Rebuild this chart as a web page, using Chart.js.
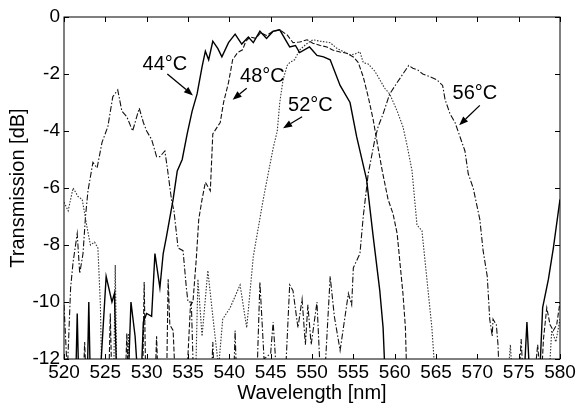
<!DOCTYPE html>
<html>
<head>
<meta charset="utf-8">
<script src="https://cdn.jsdelivr.net/npm/chart.js@4.4.1/dist/chart.umd.min.js"></script>
<style>
html, body { margin: 0; padding: 0; background: #fff; }
#wrap { width: 579px; height: 408px; }
</style>
</head>
<body>
<div id="wrap"><canvas id="chart" width="579" height="408"></canvas></div>
<script>
// Axis ticks
const xTicks = [520, 525, 530, 535, 540, 545, 550, 555, 560, 565, 570, 575, 580];
const yTicks = [-12, -10, -8, -6, -4, -2, 0];

// 44°C (solid)
const wl44 = [520, 521.4, 521.6, 521.8, 522.8, 523.0, 523.2, 524.4, 525.1, 525.8, 526.1, 526.4, 527.8, 528.1, 528.6, 529.0,
  529.4, 529.6, 530.0, 530.6, 531.0, 531.6, 532.0, 532.4, 533.2, 533.7, 534.3, 534.9, 535.5, 536.1, 536.7, 537.1,
  537.5, 538.0, 538.6, 539.1, 539.9, 540.7, 541.5, 542.3, 542.9, 543.7, 544.5, 545.3, 546.1, 546.8, 547.3, 548.0,
  548.5, 549.7, 550.6, 551.4, 552.2, 553.4, 554.6, 555.4, 556.6, 557.4, 558.2, 558.6, 558.9,
  575.6, 576.0, 576.4, 577.6, 577.9, 578.6, 579.2, 580];
const t44 = [-13, -13, -10.4, -13, -13, -10.0, -13, -12.5, -9.1, -10.0, -9.7, -13, -12.5, -10.0, -11.2, -13,
  -12.2, -10.7, -10.4, -10.5, -8.3, -9.5, -8.3, -7.7, -6.4, -5.4, -5.0, -4.1, -3.3, -2.7, -1.75, -1.2,
  -1.5, -0.85, -1.1, -1.4, -0.9, -0.6, -0.95, -0.7, -0.9, -0.5, -0.75, -0.5, -0.45, -0.8, -1.05, -1.0,
  -1.25, -1.05, -1.35, -1.4, -1.5, -2.4, -3.0, -4.2, -5.7, -7.7, -9.6, -10.9, -13,
  -13, -10.7, -13, -12.2, -10.2, -9.2, -8.1, -6.4];

// 48°C (dashed)
const wl48 = [520, 522.3, 522.5, 522.7, 525.4, 525.6, 525.8, 527.4, 527.6, 527.8, 529.5, 529.7, 529.9, 531.0, 531.2, 531.4,
  532.4, 532.6, 532.8, 533.2, 533.5, 534.8, 535.3, 535.6, 536.0, 536.3, 536.7, 537.1, 537.7, 538.0, 538.9, 539.3,
  539.9, 540.4, 541.0, 541.6, 542.0, 542.5, 543.2, 543.8, 544.5, 545.3, 546.1, 547.0, 547.7, 548.5, 549.4, 550.1,
  551.0, 551.8, 552.5, 553.4, 554.2, 555.0, 555.6, 556.2, 556.8, 557.4, 558.0, 558.5, 559.2, 559.8, 560.3, 560.6,
  561.0, 561.3, 561.5, 576.8, 577.3, 577.7, 578.0, 578.4, 578.8, 579.2, 579.6, 580];
const t48 = [-13, -13, -11.4, -13, -13, -10.4, -13, -13, -11.1, -13, -13, -9.3, -13, -13, -11.2, -13,
  -13, -9.2, -10.8, -11.0, -13, -13, -10.1, -10.0, -8.5, -7.1, -6.4, -5.8, -6.1, -4.1, -3.7, -3.0,
  -2.3, -1.5, -1.25, -1.15, -0.85, -0.7, -0.75, -0.55, -0.65, -0.5, -0.45, -0.63, -0.9, -0.88, -0.8, -0.92,
  -1.0, -1.05, -1.16, -1.23, -1.27, -1.4, -1.6, -2.1, -2.8, -3.6, -4.6, -5.4, -6.4, -6.9, -7.6, -8.5,
  -9.7, -10.9, -13, -13, -11.5, -13, -11.3, -10.2, -10.8, -11.0, -10.8, -10.0];

// 52°C (dotted)
const wl52 = [520.0, 520.5, 521.1, 521.7, 522.2, 522.8, 523.2, 523.7, 524.1, 524.4, 524.6, 526.0, 526.2, 526.4, 527.6, 527.8,
  528.0, 535.9, 536.2, 536.7, 537.4, 538.0, 538.7, 539.2, 540.1, 541.3, 542.1, 542.9, 543.5, 544.1, 544.7, 545.3,
  545.8, 546.1, 546.5, 547.0, 547.3, 547.9, 548.5, 549.3, 550.1, 551.0, 552.2, 553.0, 553.7, 554.6, 555.2, 555.8,
  556.2, 556.8, 557.6, 558.2, 558.8, 559.4, 560.3, 561.0, 561.5, 562.1, 562.7, 563.3, 563.9, 564.5, 565.0,
  573.6, 574.0, 574.3, 578.6, 579.0, 579.5, 580];
const t52 = [-6.5, -6.8, -6.0, -6.3, -6.4, -7.4, -8.0, -7.9, -8.1, -10.1, -13, -13, -8.7, -13, -13, -11.1,
  -13, -13, -9.2, -11.2, -8.9, -10.5, -12.3, -10.6, -10.2, -9.4, -10.9, -8.4, -7.4, -6.4, -5.5, -4.6,
  -4.0, -3.0, -2.2, -1.7, -1.6, -1.5, -1.16, -0.95, -0.8, -0.85, -0.9, -1.1, -1.2, -1.33, -1.3, -1.22,
  -1.6, -1.65, -1.9, -2.2, -2.5, -2.7, -3.3, -3.85, -4.5, -5.4, -7.3, -7.5, -9.2, -10.9, -13,
  -13, -11.5, -13, -13, -11.0, -11.4, -10.6];

// 56°C (dash-dot)
const wl56 = [520.0, 520.4, 520.8, 521.1, 521.6, 521.9, 522.3, 522.6, 522.9, 523.5, 524.0, 524.6, 525.3, 525.9, 526.5, 527.0,
  527.6, 528.3, 529.1, 529.6, 530.0, 530.6, 531.2, 531.6, 532.2, 532.5, 533.0, 533.3, 533.8, 534.4, 534.8, 535.0,
  535.4, 535.7, 537.8, 538.0, 538.2, 540.5, 540.7, 540.9, 543.3, 543.7, 544.2, 545.0, 545.3, 545.7, 546.8, 547.3,
  547.7, 548.3, 548.8, 549.2, 549.5, 549.9, 550.6, 551.0, 551.6, 552.2, 552.7, 553.4, 554.0, 554.4, 554.8, 555.0,
  555.8, 556.2, 556.6, 556.8, 557.6, 558.0, 558.6, 559.4, 560.3, 561.0, 561.7, 562.2, 562.8, 563.4, 564.3, 565.1,
  565.8, 566.1, 566.7, 567.3, 567.9, 568.5, 568.9, 569.5, 570.3, 570.7, 571.2, 571.5, 571.8, 571.9, 572.3, 572.5,
  572.7, 575.0, 575.3, 575.6, 580];
const t56 = [-10.1, -12.5, -9.5, -8.6, -7.6, -9.0, -8.3, -7.0, -6.1, -5.1, -5.3, -4.4, -3.85, -2.8, -2.56, -3.3,
  -3.5, -4.0, -3.2, -3.7, -4.0, -4.3, -4.9, -4.9, -4.7, -5.3, -6.4, -6.8, -8.1, -8.2, -9.5, -10.0,
  -10.0, -13, -13, -11.4, -13, -13, -11.0, -13, -13, -9.3, -12, -11.8, -10.7, -12.5, -12.5, -9.4,
  -9.6, -10.9, -9.9, -11.5, -10.1, -11.5, -10.0, -12.5, -12.3, -9.1, -10.5, -11.7, -10.5, -9.7, -10.1, -8.8,
  -8.3, -7.0, -6.0, -5.5, -4.3, -3.85, -3.4, -2.7, -2.3, -2.0, -1.7, -1.8, -1.86, -2.0, -2.1, -2.2,
  -2.4, -2.9, -3.4, -3.7, -4.2, -4.7, -5.5, -6.0, -7.1, -8.2, -9.1, -10.6, -11.2, -10.6, -10.8, -11.5,
  -13, -13, -11.3, -13, -13];

function pts(xs, ys) {
  return xs.map((x, i) => ({ x: x, y: ys[i] }));
}

// Curve labels and arrows (data coordinates)
const notes = [
  { text: '44°C', at: [532.2, -1.68], from: [532.5, -2.0], to: [535.6, -2.75] },
  { text: '48°C', at: [544.0, -2.1], from: [542.1, -2.5], to: [540.4, -2.9] },
  { text: '52°C', at: [549.8, -3.12], from: [548.8, -3.5], to: [546.5, -3.9] },
  { text: '56°C', at: [569.7, -2.7], from: [570.3, -3.1], to: [567.8, -3.8] }
];

const FONT = "'Liberation Sans', Arial, Helvetica, sans-serif";

// Box around the plot with inward ticks
const framePlugin = {
  id: 'frame',
  afterDatasetsDraw(chart) {
    const { ctx, chartArea: a, scales } = chart;
    const len = 5;
    ctx.save();
    ctx.strokeStyle = '#000';
    ctx.lineWidth = 1;
    ctx.strokeRect(a.left, a.top, a.right - a.left, a.bottom - a.top);
    ctx.beginPath();
    xTicks.forEach(v => {
      const px = Math.round(scales.x.getPixelForValue(v)) + 0.5;
      ctx.moveTo(px, a.bottom); ctx.lineTo(px, a.bottom - len);
      ctx.moveTo(px, a.top); ctx.lineTo(px, a.top + len);
    });
    yTicks.forEach(v => {
      const py = Math.round(scales.y.getPixelForValue(v)) + 0.5;
      ctx.moveTo(a.left, py); ctx.lineTo(a.left + len, py);
      ctx.moveTo(a.right, py); ctx.lineTo(a.right - len, py);
    });
    ctx.stroke();
    ctx.restore();
  }
};

const notesPlugin = {
  id: 'notes',
  afterDatasetsDraw(chart) {
    const { ctx, scales } = chart;
    ctx.save();
    ctx.fillStyle = '#000';
    ctx.strokeStyle = '#000';
    ctx.font = '20px ' + FONT;
    ctx.textAlign = 'center';
    ctx.textBaseline = 'middle';
    notes.forEach(n => {
      ctx.fillText(n.text, scales.x.getPixelForValue(n.at[0]), scales.y.getPixelForValue(n.at[1]));
      const x1 = scales.x.getPixelForValue(n.from[0]), y1 = scales.y.getPixelForValue(n.from[1]);
      const x2 = scales.x.getPixelForValue(n.to[0]), y2 = scales.y.getPixelForValue(n.to[1]);
      const ang = Math.atan2(y2 - y1, x2 - x1);
      const hl = 9, hw = 3.5;
      ctx.lineWidth = 1.3;
      ctx.beginPath();
      ctx.moveTo(x1, y1);
      ctx.lineTo(x2 - hl * Math.cos(ang), y2 - hl * Math.sin(ang));
      ctx.stroke();
      ctx.beginPath();
      ctx.moveTo(x2, y2);
      ctx.lineTo(x2 - hl * Math.cos(ang) + hw * Math.sin(ang), y2 - hl * Math.sin(ang) - hw * Math.cos(ang));
      ctx.lineTo(x2 - hl * Math.cos(ang) - hw * Math.sin(ang), y2 - hl * Math.sin(ang) + hw * Math.cos(ang));
      ctx.closePath();
      ctx.fill();
    });
    ctx.restore();
  }
};

function line(label, data, width, dash, color) {
  return {
    label: label,
    data: data,
    borderColor: color,
    borderWidth: width,
    borderDash: dash,
    pointRadius: 0,
    tension: 0,
    fill: false
  };
}

new Chart(document.getElementById('chart').getContext('2d'), {
  type: 'line',
  data: {
    datasets: [
      line('44°C', pts(wl44, t44), 1.4, [], '#000'),
      line('48°C', pts(wl48, t48), 1.1, [5, 2], '#111'),
      line('52°C', pts(wl52, t52), 1.1, [1.5, 1.5], '#333'),
      line('56°C', pts(wl56, t56), 1.1, [6, 2, 1.5, 2], '#111')
    ]
  },
  options: {
    responsive: false,
    animation: false,
    devicePixelRatio: 1,
    layout: { padding: { top: 17, right: 19, left: 0, bottom: 0 } },
    plugins: {
      legend: { display: false },
      tooltip: { enabled: false }
    },
    scales: {
      x: {
        type: 'linear',
        min: 520,
        max: 580,
        afterFit: s => { s.height = 49; },
        afterBuildTicks: s => { s.ticks = xTicks.map(v => ({ value: v })); },
        grid: { display: false, drawTicks: false },
        border: { display: false },
        ticks: { color: '#000', font: { family: FONT, size: 19 }, padding: 2, maxRotation: 0, autoSkip: false },
        title: { display: true, text: 'Wavelength [nm]', color: '#000', font: { family: FONT, size: 20 }, padding: { top: 0, bottom: 3 } }
      },
      y: {
        type: 'linear',
        min: -12,
        max: 0,
        afterFit: s => { s.width = 64; },
        afterBuildTicks: s => { s.ticks = yTicks.map(v => ({ value: v })); },
        grid: { display: false, drawTicks: false },
        border: { display: false },
        ticks: { color: '#000', font: { family: FONT, size: 19 }, padding: 4, autoSkip: false },
        title: { display: true, text: 'Transmission [dB]', color: '#000', font: { family: FONT, size: 20 }, padding: { top: 6, bottom: 0 } }
      }
    }
  },
  plugins: [framePlugin, notesPlugin]
});
</script>
</body>
</html>
